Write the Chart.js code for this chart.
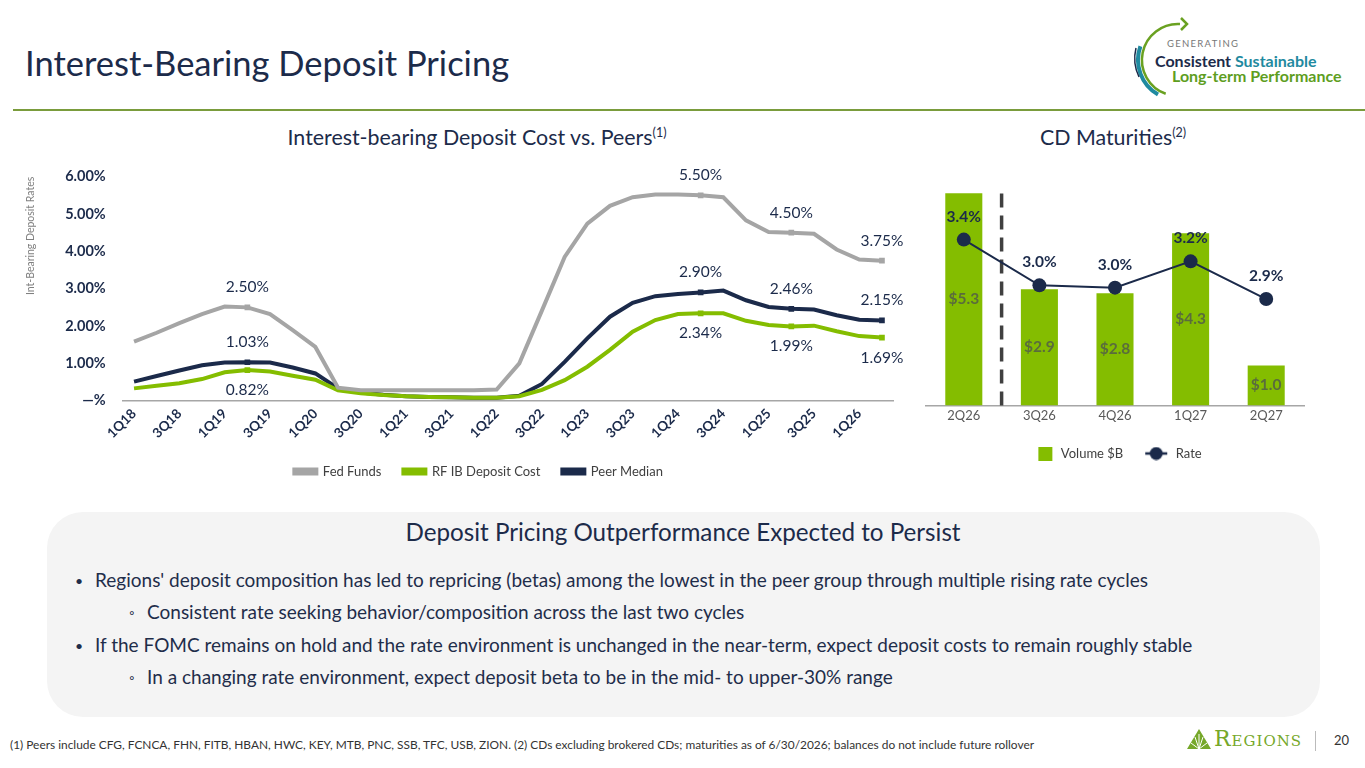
<!DOCTYPE html>
<html><head><meta charset="utf-8">
<script src="https://cdn.jsdelivr.net/npm/chart.js@4.4.1/dist/chart.umd.min.js"></script>
<style>
body{margin:0;width:1365px;height:768px;background:#fff;font-family:Lato,'Open Sans',sans-serif;position:relative;overflow:hidden;color:#1c2b4a}
.abs{position:absolute;white-space:nowrap}
.title{left:25px;top:42px;font-size:34.5px;color:#1c2b4a}
.rule{left:13px;top:109px;width:1352px;height:2px;background:#7a9c3c}
.sub{font-size:21.4px;color:#1c2b4a;top:124px;transform:translateX(-50%)}
.sub sup{font-size:12.5px}
.box{left:47px;top:512px;width:1273px;height:205px;background:#f4f4f4;border-radius:36px}
.bh{left:683px;top:517px;transform:translateX(-50%);font-size:24.2px;color:#1c2b4a}
.bl{font-size:19px;color:#1f2d4a}
.bu{font-size:14px;color:#1f2d4a}
.foot{left:10px;top:737px;font-size:11.9px;color:#333}
</style></head>
<body>
<div class="abs title">Interest-Bearing Deposit Pricing</div>
<div class="abs rule"></div>
<svg class="abs" style="left:1125px;top:15px" width="240" height="90" viewBox="0 0 240 90">
  <path d="M15.4 31.3 A40 40 0 0 0 33 79.6" stroke="#1f8aa0" stroke-width="4" fill="none"/>
  <path d="M11 33 A43 43 0 0 0 14 62" stroke="#1c2b4a" stroke-width="1.5" fill="none"/>
  <path d="M55 9 A36 36 0 0 0 40.7 78.8" stroke="#6aa121" stroke-width="2.5" fill="none"/>
  <path d="M56 3 L62 9 L56 15" stroke="#6aa121" stroke-width="2.5" fill="none"/>
  <text x="42" y="32" font-family="Lato" font-size="9.5" letter-spacing="1.3" fill="#777">GENERATING</text>
  <text x="30" y="52" font-family="Lato" font-size="16" font-weight="bold" fill="#1c2b4a">Consistent <tspan fill="#1f8aa0">Sustainable</tspan></text>
  <text x="47" y="67" font-family="Lato" font-size="16" font-weight="bold" fill="#5e9e1f">Long-term Performance</text>
</svg>
<div class="abs sub" style="left:477px">Interest-bearing Deposit Cost vs. Peers<sup>(1)</sup></div>
<div class="abs sub" style="left:1113px">CD Maturities<sup>(2)</sup></div>
<canvas id="c1" class="abs" style="left:20px;top:151px" width="890" height="337"></canvas>
<canvas id="c2" class="abs" style="left:900px;top:150px" width="440" height="320"></canvas>
<div class="abs box"></div>
<div class="abs bh">Deposit Pricing Outperformance Expected to Persist</div>
<div class="abs bu" style="left:75px;top:572px">•</div>
<div class="abs bl" style="left:95px;top:568px">Regions' deposit composition has led to repricing (betas) among the lowest in the peer group through multiple rising rate cycles</div>
<div class="abs bu" style="left:129px;top:604px">◦</div>
<div class="abs bl" style="left:147px;top:600px">Consistent rate seeking behavior/composition across the last two cycles</div>
<div class="abs bu" style="left:75px;top:637px">•</div>
<div class="abs bl" style="left:95px;top:633px">If the FOMC remains on hold and the rate environment is unchanged in the near-term, expect deposit costs to remain roughly stable</div>
<div class="abs bu" style="left:129px;top:669px">◦</div>
<div class="abs bl" style="left:147px;top:665px">In a changing rate environment, expect deposit beta to be in the mid- to upper-30% range</div>
<div class="abs foot">(1) Peers include CFG, FCNCA, FHN, FITB, HBAN, HWC, KEY, MTB, PNC, SSB, TFC, USB, ZION. (2) CDs excluding brokered CDs; maturities as of 6/30/2026; balances do not include future rollover</div>
<svg class="abs" style="left:1186px;top:728px" width="26" height="22" viewBox="0 0 26 22">
  <polygon points="1,21 13,1 25,21" fill="#76a82a"/>
  <path d="M13 21 L9 9 M13 21 L13 6 M13 21 L17 9 M13 21 L5 15 M13 21 L21 15" stroke="#fff" stroke-width="1"/>
</svg>
<div class="abs" style="left:1214px;top:726px;font-family:'DejaVu Serif','Liberation Serif',serif;font-variant:small-caps;font-size:22px;color:#76a82a;letter-spacing:1px">Regions</div>
<div class="abs" style="left:1315px;top:731px;width:1px;height:20px;background:#bbb"></div>
<div class="abs" style="left:1334px;top:732px;font-size:13px;color:#333">20</div>
<script>
// ---------- data: left chart ----------
const quarters = ['1Q18','2Q18','3Q18','4Q18','1Q19','2Q19','3Q19','4Q19','1Q20','2Q20','3Q20','4Q20','1Q21','2Q21','3Q21','4Q21','1Q22','2Q22','3Q22','4Q22','1Q23','2Q23','3Q23','4Q23','1Q24','2Q24','3Q24','4Q24','1Q25','2Q25','3Q25','4Q25','1Q26','2Q26'];
const fedFunds = [1.58,1.82,2.08,2.32,2.52,2.50,2.32,1.89,1.44,0.35,0.28,0.28,0.28,0.28,0.28,0.28,0.30,1.00,2.42,3.85,4.74,5.22,5.45,5.52,5.52,5.50,5.45,4.83,4.52,4.50,4.47,4.05,3.78,3.75];
const rfIbCost = [0.33,0.40,0.47,0.58,0.76,0.82,0.78,0.67,0.56,0.28,0.20,0.15,0.12,0.10,0.09,0.08,0.08,0.12,0.29,0.55,0.91,1.36,1.85,2.16,2.32,2.34,2.34,2.14,2.03,1.99,2.01,1.86,1.73,1.69];
const peerMedian = [0.51,0.66,0.81,0.95,1.02,1.03,1.02,0.89,0.73,0.33,0.22,0.16,0.12,0.10,0.09,0.08,0.08,0.13,0.45,1.04,1.67,2.25,2.62,2.80,2.86,2.90,2.95,2.69,2.51,2.46,2.44,2.29,2.17,2.15];
const markedQuarters = ['2Q19','2Q24','2Q25','2Q26'];
const yTicksLeft = [0,1,2,3,4,5,6];
// ---------- data: right chart ----------
const cdQuarters = ['2Q26','3Q26','4Q26','1Q27','2Q27'];
const cdVolume = [5.3,2.9,2.8,4.3,1.0];
const cdRate = [3.40,3.00,2.98,3.21,2.88];

const NAVY='#1b2a4a', GREEN='#84bd00', GRAY='#a5a5a5';
Chart.defaults.font.family='Lato';
const markIdx = markedQuarters.map(q=>quarters.indexOf(q));

const lineLabels = {
  id:'lineLabels',
  afterDatasetsDraw(chart){
    const ctx=chart.ctx; ctx.save();
    ctx.font='15.5px Lato'; ctx.fillStyle=NAVY; ctx.textAlign='center'; ctx.textBaseline='middle';
    chart.data.datasets.forEach((ds,di)=>{
      const meta=chart.getDatasetMeta(di);
      markIdx.forEach(i=>{
        const p=meta.data[i];
        const off = ds.labelBelow ? 20 : -20;
        ctx.fillText(ds.data[i].toFixed(2)+'%', p.x, p.y+off);
      });
    });
    ctx.restore();
  }
};
const legendShift = { id:'legendShift', afterLayout(chart){ const l=chart.legend; if(l){ l.left+=22; l.right+=22; } } };

const pr = ctx => markIdx.includes(ctx.dataIndex) ? 4 : 0;
new Chart(document.getElementById('c1'), {
  type:'line',
  data:{labels:quarters, datasets:[
    {label:'Fed Funds', data:fedFunds, borderColor:GRAY, backgroundColor:GRAY, borderWidth:4, pointRadius:pr, pointStyle:'rect', pointBackgroundColor:GRAY, pointBorderWidth:0, tension:0},
    {label:'RF IB Deposit Cost', data:rfIbCost, borderColor:GREEN, backgroundColor:GREEN, borderWidth:4, pointRadius:pr, pointStyle:'rect', pointBackgroundColor:GREEN, pointBorderWidth:0, labelBelow:true},
    {label:'Peer Median', data:peerMedian, borderColor:NAVY, backgroundColor:NAVY, borderWidth:4, pointRadius:pr, pointStyle:'rect', pointBackgroundColor:NAVY, pointBorderWidth:0}
  ]},
  options:{
    responsive:false, animation:false, devicePixelRatio:1,
    layout:{padding:{top:16,left:0,right:16.7,bottom:0}},
    plugins:{tooltip:{enabled:false},
      legend:{position:'bottom', labels:{boxWidth:22, boxHeight:4, color:'#404040', font:{size:13}, padding:22}}},
    scales:{
      x:{offset:true, grid:{display:false, drawTicks:false}, border:{color:'#a6a6a6', width:1.5},
        ticks:{autoSkip:false, maxRotation:45, minRotation:45, color:NAVY, font:{size:13.5, weight:'bold'}, padding:5,
          callback:(v,i)=> i%2===0 ? quarters[i] : ''},
        afterFit:s=>{s.height=42.3;}},
      y:{min:0, max:6, grid:{display:false, drawTicks:false}, border:{display:false},
        afterBuildTicks:s=>{s.ticks=yTicksLeft.map(v=>({value:v}));},
        ticks:{color:NAVY, font:{size:14.5, weight:'bold'}, padding:17, callback:v=> v===0 ? '—%' : v.toFixed(2)+'%'},
        title:{display:true, text:'Int-Bearing Deposit Rates', align:'end', color:'#808080', font:{size:10.5}, padding:{top:4,bottom:0}},
        afterFit:s=>{s.width=102.7;}}
    }
  },
  plugins:[lineLabels, legendShift]
});

// right chart
const barLabels = {
  id:'barLabels',
  afterDatasetsDraw(chart){
    const ctx=chart.ctx; ctx.save(); ctx.textAlign='center'; ctx.textBaseline='middle';
    const bm=chart.getDatasetMeta(1);
    ctx.font='bold 15.5px Lato'; ctx.fillStyle='#5a6c3c';
    bm.data.forEach((b,i)=>{ ctx.fillText('$'+cdVolume[i].toFixed(1), b.x, (b.y+b.base)/2); });
    const lm=chart.getDatasetMeta(0);
    ctx.fillStyle=NAVY;
    lm.data.forEach((p,i)=>{ ctx.fillText(cdRate[i].toFixed(1)+'%', p.x, p.y-23); });
    ctx.restore();
  },
  beforeDatasetsDraw(chart){
    const xs=chart.scales.x, ys=chart.scales.y, ctx=chart.ctx;
    const x=(xs.getPixelForValue(0)+xs.getPixelForValue(1))/2;
    ctx.save(); ctx.strokeStyle='#404040'; ctx.lineWidth=3.5; ctx.setLineDash([14,8]);
    ctx.beginPath(); ctx.moveTo(x, ys.getPixelForValue(0)); ctx.lineTo(x, ys.getPixelForValue(5.45)); ctx.stroke();
    ctx.restore();
  }
};
function rateIcon(){
  const c=document.createElement('canvas'); c.width=26; c.height=14;
  const g=c.getContext('2d'); g.strokeStyle=NAVY; g.lineWidth=2.5;
  g.beginPath(); g.moveTo(2,7); g.lineTo(24,7); g.stroke();
  g.fillStyle=NAVY; g.beginPath(); g.arc(13,7,6.5,0,Math.PI*2); g.fill();
  return c;
}
function volIcon(){
  const c=document.createElement('canvas'); c.width=26; c.height=14;
  const g=c.getContext('2d'); g.fillStyle=GREEN; g.fillRect(10,0,14,14);
  return c;
}
const rIcon = rateIcon(), vIcon = volIcon();
new Chart(document.getElementById('c2'), {
  data:{labels:cdQuarters, datasets:[
    {type:'line', label:'Rate', data:cdRate, yAxisID:'y2', borderColor:NAVY, backgroundColor:NAVY, borderWidth:2, pointRadius:7, pointBackgroundColor:NAVY, pointBorderWidth:0, order:0},
    {type:'bar', label:'Volume $B', data:cdVolume, yAxisID:'y', backgroundColor:GREEN, categoryPercentage:0.7, barPercentage:0.7, order:1}
  ]},
  options:{
    responsive:false, animation:false, devicePixelRatio:1,
    layout:{padding:{top:15.3,left:26,right:36,bottom:0}},
    plugins:{tooltip:{enabled:false},
      legend:{position:'bottom', labels:{usePointStyle:true, pointStyleWidth:26, color:'#404040', font:{size:13}, padding:20,
        generateLabels:(chart)=>[
          {text:'Volume $B', fillStyle:GREEN, strokeStyle:GREEN, lineWidth:0, pointStyle:vIcon, datasetIndex:1, fontColor:'#404040'},
          {text:'Rate', fillStyle:NAVY, strokeStyle:NAVY, lineWidth:0, pointStyle:rIcon, datasetIndex:0, fontColor:'#404040'}
        ]}}},
    scales:{
      x:{grid:{display:false, drawTicks:false}, border:{color:'#a6a6a6', width:1.5},
        ticks:{color:'#595959', font:{size:13}, padding:3}, afterFit:s=>{s.height=21.6;}},
      y:{display:false, min:0, max:6},
      y2:{display:false, min:1.95, max:4.05, position:'right'}
    }
  },
  plugins:[barLabels]
});
</script>
</body></html>
